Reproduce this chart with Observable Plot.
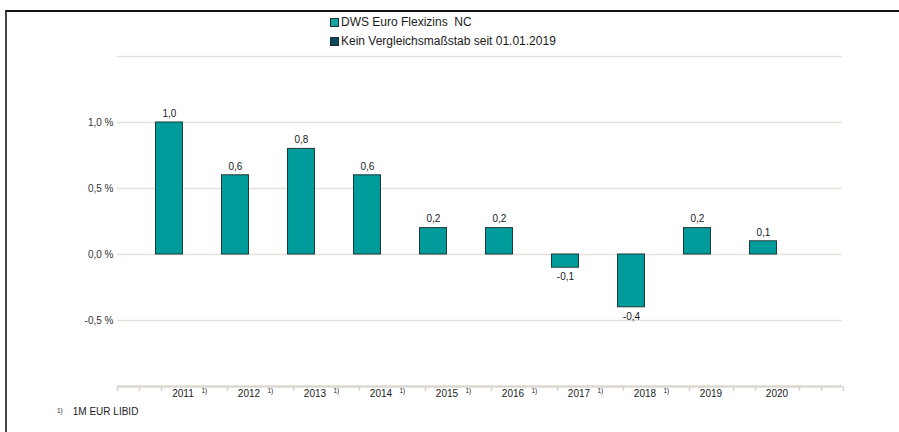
<!DOCTYPE html>
<html>
<head>
<meta charset="utf-8">
<script src="https://cdn.jsdelivr.net/npm/d3@7"></script>
<script src="https://cdn.jsdelivr.net/npm/@observablehq/plot@0.6"></script>
<style>
  html, body { margin: 0; padding: 0; background: #fff; }
  #wrap { position: relative; width: 899px; height: 432px; overflow: hidden; font-family: "Liberation Sans", Arial, sans-serif; color: #1a1a1a; }
  #frame { position: absolute; left: 5px; top: 10px; width: 900px; height: 430px; border-left: 2px solid #444; border-top: 2px solid #111; box-sizing: border-box; }
  #chart { position: absolute; left: 0; top: 0; }
  .leg { position: absolute; left: 330px; font-size: 12px; line-height: 13px; display: flex; align-items: center; white-space: pre; }
  .sw { width: 7px; height: 7px; border: 1px solid #1d2e33; margin-right: 2px; }
  #foot { position: absolute; left: 57px; top: 406px; font-size: 10px; white-space: pre; }
  #foot sup { font-size: 6.5px; vertical-align: 2px; margin-right: 10px; }
</style>
</head>
<body>
<div id="wrap">
  <div id="frame"></div>
  <div id="chart"></div>
  <div class="leg" style="top:16px"><div class="sw" style="background:#13a3a3"></div>DWS Euro Flexizins  NC</div>
  <div class="leg" style="top:35px"><div class="sw" style="background:#0b4a5f"></div>Kein Vergleichsmaßstab seit 01.01.2019</div>
  <div id="foot"><sup>1)</sup>1M EUR LIBID</div>
</div>
<script>
const years = ["2011","2012","2013","2014","2015","2016","2017","2018","2019","2020"];
const values = [1.0, 0.6, 0.8, 0.6, 0.2, 0.2, -0.1, -0.4, 0.2, 0.1];
const footnoted = ["2011","2012","2013","2014","2015","2016","2017","2018"];
const yTicks = [-0.5, 0, 0.5, 1.0];
const gridLines = [-0.5, 0, 0.5, 1.0, 1.5];

const data = years.map((y, i) => ({year: y, value: values[i]}));
const fmt = v => v.toFixed(1).replace(".", ",");

const tick = (list, dx) => Plot.ruleX(list, {x: d => d, y1: -1.0, y2: -1.0, dx, insetBottom: -5, stroke: "#d8d4cb", strokeWidth: 1.5});

const chart = Plot.plot({
  width: 899,
  height: 432,
  marginLeft: 117,
  marginRight: 57,
  marginTop: 56,
  marginBottom: 46,
  style: {fontFamily: "Liberation Sans, Arial, sans-serif", background: "transparent"},
  x: {type: "band", domain: years, paddingInner: 0.5909, paddingOuter: 0.7879, align: 0.37, round: false, axis: null},
  y: {domain: [-1.0, 1.5], axis: null, label: null},
  marks: [
    Plot.ruleY(gridLines, {stroke: "#e4e1da", strokeWidth: 1.5}),
    Plot.ruleY([-1.0], {stroke: "#dcd8cf", strokeWidth: 2.5}),
    Plot.axisY(yTicks, {tickSize: 0, tickPadding: 4, fontSize: 10, fill: "#333", label: null, tickFormat: v => fmt(v) + " %"}),
    Plot.barY(data, {x: "year", y: "value", fill: "#009c9c", stroke: "#20393a", strokeWidth: 1}),
    Plot.text(data.filter(d => d.value >= 0), {x: "year", y: "value", text: d => fmt(d.value), dy: -9, fontSize: 10, fill: "#1a1a1a"}),
    Plot.text(data.filter(d => d.value < 0), {x: "year", y: "value", text: d => fmt(d.value), dy: 9, fontSize: 10, fill: "#1a1a1a"}),
    Plot.text(years, {x: d => d, y: -1.0, text: d => d, dx: 13.5, dy: 7, fontSize: 10, fill: "#1a1a1a"}),
    Plot.text(footnoted, {x: d => d, y: -1.0, text: () => "1)", dx: 32, dy: 4.5, fontSize: 6.5, textAnchor: "start", fill: "#1a1a1a"}),
    // minor ticks along the category axis (group boundaries, hidden under labels)
    tick(years, -8),
    tick(["2011"], -52),
    tick(["2011"], -30),
    tick(["2019", "2020"], 36),
    tick(["2020"], 58),
    tick(["2020"], 80)
  ]
});
document.getElementById("chart").appendChild(chart);
</script>
</body>
</html>
